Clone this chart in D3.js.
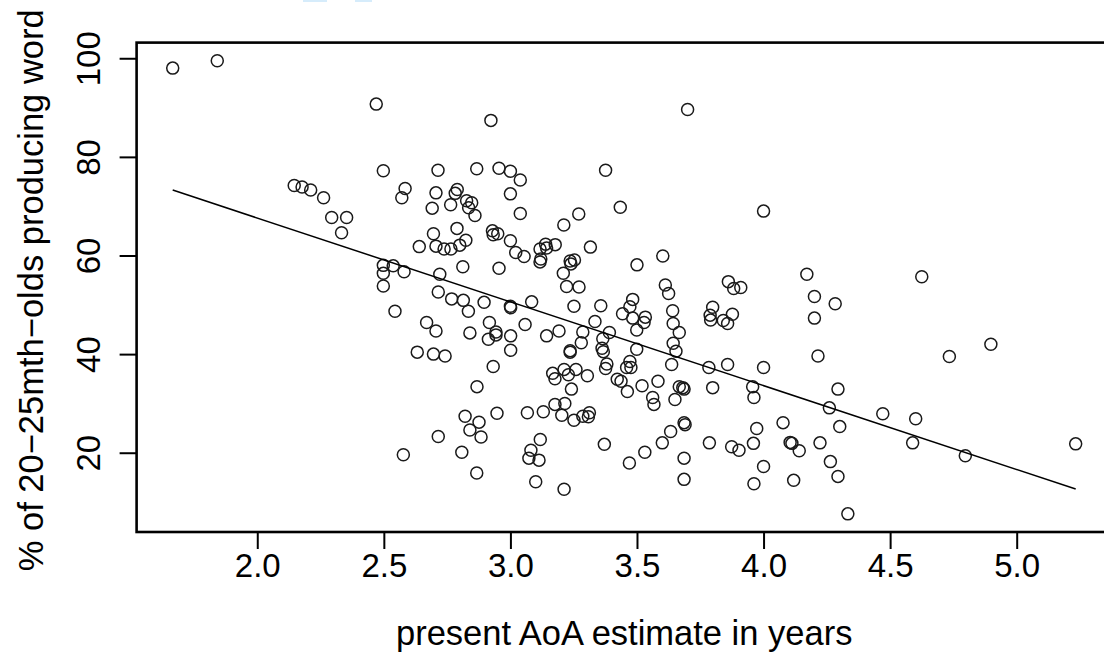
<!DOCTYPE html>
<html>
<head>
<meta charset="utf-8">
<script src="https://cdn.jsdelivr.net/npm/d3@7"></script>
<style>
  body { margin: 0; background: #fff; }
  text { font-family: 'Liberation Sans', Arial, sans-serif; }
</style>
</head>
<body>
<div id="container"></div>
<script>
// present AoA estimate (years) for each word
const aoa = [
  1.666, 1.842, 2.470, 2.146, 2.177, 2.211, 2.262, 2.294, 2.353, 2.333,
  2.923, 2.498, 2.714, 2.867, 2.955, 3.000, 3.039, 2.584, 2.571, 2.706,
  2.790, 2.782, 2.764, 2.691, 2.827, 2.847, 2.835, 2.860, 3.000, 3.039,
  3.211, 2.789, 2.696, 2.929, 2.932, 2.950, 2.706, 2.640, 2.738, 2.765,
  2.800, 2.824, 3.000, 3.021, 3.054, 3.117, 3.139, 3.143, 3.177, 3.120,
  3.117, 3.236, 3.209, 3.222, 2.498, 2.537, 2.580, 2.498, 2.498, 2.721,
  2.812, 2.955, 2.715,
  3.700, 3.376, 3.434, 3.270, 4.000, 3.316, 3.253, 3.239, 3.500, 3.602,
  3.271, 3.612, 3.625, 3.861, 3.882, 3.910, 4.171, 4.625,
  4.201, 4.283, 4.201, 4.215, 4.734, 4.898, 4.000, 3.957, 3.962, 4.294,
  4.260, 4.471, 4.601, 3.973, 4.077, 4.301, 3.960, 4.105, 4.112, 4.141,
  4.223, 4.589, 4.797, 5.233, 4.000, 4.264, 3.962, 4.119, 4.294, 4.333,
  3.251, 3.357, 3.483, 3.472, 3.443, 3.483, 3.533, 3.528, 3.499, 3.334,
  3.286, 3.391, 3.365, 3.280, 3.236, 3.236, 3.362, 3.367, 3.499, 3.641,
  3.643, 3.667, 3.643, 3.654, 3.637, 3.799, 3.789, 3.791, 3.841, 3.858,
  3.877, 3.784, 3.858, 3.381, 3.376, 3.472, 3.459, 3.476, 3.259, 3.304,
  3.212, 3.229, 3.422, 3.437, 3.462, 3.520, 3.583, 3.562, 3.567, 3.650,
  3.667, 3.681, 3.686, 3.799, 3.241, 3.215, 3.203, 3.251, 3.286, 3.312,
  3.308, 3.686, 3.690, 3.633, 3.600, 3.531, 3.470, 3.371, 3.686, 3.686,
  3.786, 3.874, 3.903, 3.212,
  2.544, 2.768, 2.814, 2.834, 2.896, 3.000, 3.001, 3.084, 2.669, 2.706,
  2.840, 2.917, 2.943, 2.943, 2.913, 3.001, 3.058, 3.143, 3.192, 2.632,
  2.696, 2.742, 3.001, 2.932, 3.167, 3.176, 2.868, 3.176, 3.067, 3.130,
  2.947, 2.821, 2.876, 2.840, 2.884, 2.715, 3.118, 3.081, 3.073, 3.113,
  2.577, 2.808, 2.867, 3.100
];

// % of 20-25 month olds producing the word (same order as aoa)
const producing = [
  98.0, 99.5, 90.7, 74.2, 73.9, 73.3, 71.7, 67.7, 67.7, 64.6,
  87.4, 77.2, 77.3, 77.6, 77.7, 77.1, 75.3, 73.6, 71.7, 72.7,
  73.4, 72.6, 70.3, 69.6, 71.1, 70.7, 69.7, 68.1, 72.5, 68.5,
  66.2, 65.5, 64.4, 65.0, 64.2, 64.4, 61.9, 61.8, 61.3, 61.3,
  62.1, 63.1, 63.0, 60.6, 59.8, 61.3, 62.3, 61.5, 62.2, 59.3,
  58.7, 58.9, 56.4, 53.7, 58.0, 57.9, 56.7, 56.4, 53.8, 56.2,
  57.7, 57.4, 52.6,
  89.6, 77.3, 69.8, 68.4, 69.0, 61.7, 59.1, 58.3, 58.1, 59.9,
  53.6, 54.0, 52.3, 54.7, 53.3, 53.5, 56.2, 55.7,
  51.7, 50.2, 47.3, 39.6, 39.5, 42.0, 37.3, 33.4, 31.2, 32.9,
  29.1, 27.9, 26.9, 24.9, 26.1, 25.3, 21.9, 22.1, 21.9, 20.4,
  22.0, 22.0, 19.4, 21.8, 17.2, 18.2, 13.7, 14.4, 15.2, 7.6,
  49.7, 49.8, 51.1, 49.6, 48.2, 47.3, 47.5, 46.4, 44.9, 46.6,
  44.5, 44.4, 43.1, 42.3, 40.7, 40.4, 41.2, 40.5, 41.0, 48.8,
  46.2, 44.4, 42.2, 40.6, 37.9, 49.5, 47.9, 46.9, 46.8, 46.2,
  48.1, 37.3, 37.9, 38.0, 37.1, 38.5, 37.3, 37.3, 36.9, 35.6,
  36.9, 35.8, 34.9, 34.5, 32.4, 33.6, 34.5, 31.2, 29.8, 30.8,
  33.4, 33.2, 32.9, 33.2, 32.9, 30.0, 27.6, 26.6, 27.4, 28.1,
  27.3, 26.1, 25.7, 24.3, 22.0, 20.1, 17.9, 21.7, 18.9, 14.6,
  22.0, 21.2, 20.5, 12.6,
  48.7, 51.2, 50.9, 48.7, 50.5, 49.7, 49.4, 50.6, 46.4, 44.7,
  44.3, 46.4, 44.5, 43.9, 43.0, 43.7, 46.0, 43.7, 44.7, 40.4,
  40.0, 39.6, 40.8, 37.5, 36.1, 35.0, 33.4, 29.8, 28.1, 28.3,
  28.0, 27.4, 26.2, 24.6, 23.2, 23.3, 22.7, 20.5, 18.9, 18.5,
  19.6, 20.1, 15.9, 14.1
];

// fitted regression line
const fitIntercept = 101.6;
const fitSlope = -17.0;

const xTicks = [2.0, 2.5, 3.0, 3.5, 4.0, 4.5, 5.0];
const yTicks = [20, 40, 60, 80, 100];

const xLabel = 'present AoA estimate in years';
const yLabel = '% of 20\u221225mth\u2212olds producing word';

let svg,
  xScale,
  yScale,
  svgWidth = 1104,
  svgHeight = 655,
  plotLeft = 136.6,
  plotRight = 1111.8,
  plotTop = 42.6,
  plotBottom = 532,
  fontSize = 33,
  titleSize = 34.5;

// R style: pad the data range by 4% on each side
const padRange = (values) => {
  const [lo, hi] = d3.extent(values);
  const pad = (hi - lo) * 0.04;
  return [lo - pad, hi + pad];
};

const drawGraph = () => {
  svg = d3
    .select('#container')
    .append('svg')
    .attr('width', svgWidth)
    .attr('height', svgHeight)
    .style('display', 'block');

  // little blue marks at the top edge of the original screenshot
  svg.append('rect').attr('x', 303).attr('y', 0).attr('width', 24).attr('height', 2).attr('fill', '#d6ecfb');
  svg.append('rect').attr('x', 355).attr('y', 0).attr('width', 17).attr('height', 2).attr('fill', '#d6ecfb');
};

const generateScales = () => {
  xScale = d3.scaleLinear().domain(padRange(aoa)).range([plotLeft, plotRight]);
  yScale = d3.scaleLinear().domain(padRange(producing)).range([plotBottom, plotTop]);
};

const generateAxes = () => {
  const xAxis = d3
    .axisBottom(xScale)
    .tickValues(xTicks)
    .tickFormat(d3.format('.1f'))
    .tickSize(17)
    .tickPadding(5);

  const gx = svg
    .append('g')
    .attr('transform', `translate(0,${plotBottom})`)
    .call(xAxis);
  gx.select('.domain').remove();
  gx.selectAll('line').attr('stroke', '#000').attr('stroke-width', 2);
  gx.selectAll('text')
    .attr('fill', '#000')
    .style('font-size', `${fontSize}px`)
    .style('font-family', "'Liberation Sans', Arial, sans-serif");

  const yAxis = d3.axisLeft(yScale).tickValues(yTicks).tickSize(17);

  const gy = svg
    .append('g')
    .attr('transform', `translate(${plotLeft},0)`)
    .call(yAxis);
  gy.select('.domain').remove();
  gy.selectAll('line').attr('stroke', '#000').attr('stroke-width', 2);
  gy.selectAll('text')
    .attr('fill', '#000')
    .attr('transform', 'rotate(-90)')
    .attr('x', 0)
    .attr('y', -36.6)
    .attr('dy', 0)
    .attr('text-anchor', 'middle')
    .style('font-size', `${fontSize}px`)
    .style('font-family', "'Liberation Sans', Arial, sans-serif");

  svg
    .append('text')
    .attr('x', (plotLeft + plotRight) / 2)
    .attr('y', 645)
    .attr('text-anchor', 'middle')
    .style('font-size', `${titleSize}px`)
    .text(xLabel);

  svg
    .append('text')
    .attr('transform', `translate(43,${(plotTop + plotBottom) / 2 + 3}) rotate(-90)`)
    .attr('text-anchor', 'middle')
    .style('font-size', `${titleSize}px`)
    .text(yLabel);

  svg
    .append('rect')
    .attr('x', plotLeft)
    .attr('y', plotTop)
    .attr('width', plotRight - plotLeft)
    .attr('height', plotBottom - plotTop)
    .attr('fill', 'none')
    .attr('stroke', '#000')
    .attr('stroke-width', 2.6);
};

const drawPoints = () => {
  svg
    .append('g')
    .selectAll('circle')
    .data(aoa)
    .enter()
    .append('circle')
    .attr('cx', (d) => xScale(d))
    .attr('cy', (d, i) => yScale(producing[i]))
    .attr('r', 6)
    .attr('fill', 'none')
    .attr('stroke', '#1a1a1a')
    .attr('stroke-width', 1.5);
};

const drawFit = () => {
  const ends = d3.extent(aoa);
  const line = d3
    .line()
    .x((d) => xScale(d))
    .y((d) => yScale(fitIntercept + fitSlope * d));

  svg
    .append('path')
    .datum(ends)
    .attr('d', line)
    .attr('fill', 'none')
    .attr('stroke', '#000')
    .attr('stroke-width', 1.5);
};

drawGraph();
generateScales();
generateAxes();
drawPoints();
drawFit();
</script>
</body>
</html>
